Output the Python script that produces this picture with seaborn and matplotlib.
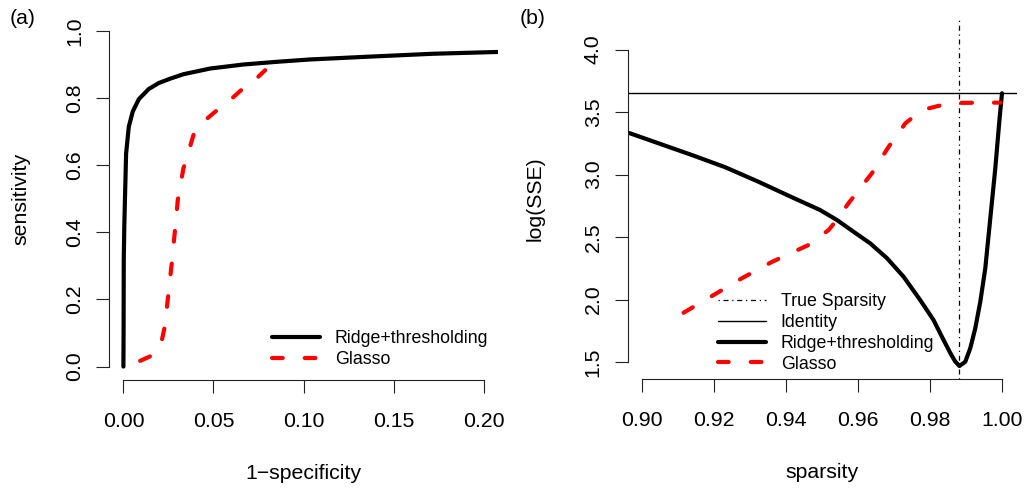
import matplotlib
matplotlib.use("Agg")
import matplotlib.pyplot as plt
import seaborn as sns

# ---------------- data ----------------
# (a) ROC curves
roc_ridge_fpr = [0.0, 0.0001, 0.0002, 0.0005, 0.0008, 0.0015, 0.003, 0.0052, 0.0086,
                 0.0141, 0.0197, 0.0261, 0.0333, 0.0482, 0.0667, 0.0852, 0.1037,
                 0.135, 0.172, 0.209]
roc_ridge_tpr = [0.0, 0.10, 0.318, 0.42, 0.486, 0.635, 0.715, 0.760, 0.797,
                 0.827, 0.845, 0.858, 0.871, 0.888, 0.900, 0.908, 0.915,
                 0.923, 0.932, 0.9375]
roc_glasso_fpr = [0.0093, 0.0167, 0.021, 0.023, 0.025, 0.0269, 0.0287, 0.0302, 0.0333,
                  0.037, 0.0389, 0.0454, 0.0509, 0.0593, 0.0648, 0.0732, 0.0787]
roc_glasso_tpr = [0.017, 0.035, 0.07, 0.12, 0.218, 0.31, 0.41, 0.496, 0.59,
                  0.655, 0.69, 0.734, 0.759, 0.794, 0.821, 0.855, 0.883]

# (b) log(SSE) vs sparsity
sse_ridge_sparsity = [0.89, 0.8962, 0.9045, 0.9138, 0.9231, 0.9323, 0.9416, 0.9494, 0.9541,
                      0.9587, 0.9633, 0.9680, 0.9726, 0.9772, 0.9809, 0.9837, 0.9856,
                      0.9869, 0.9881, 0.98972, 0.99111, 0.9925, 0.99389, 0.99528,
                      0.99667, 0.99806, 0.99925, 0.99992]
sse_ridge_log = [3.40, 3.334, 3.25, 3.156, 3.058, 2.942, 2.818, 2.716, 2.636,
                 2.542, 2.45, 2.33, 2.182, 1.996, 1.836, 1.676, 1.57,
                 1.505, 1.468, 1.502, 1.61, 1.77, 1.982, 2.25,
                 2.65, 3.05, 3.45, 3.65]
sse_glasso_sparsity = [0.9115, 0.9194, 0.9277, 0.936, 0.9462, 0.9518, 0.9536, 0.9573, 0.9638,
                       0.9684, 0.9731, 0.9777, 0.9833, 0.9879, 0.9995]
sse_glasso_log = [1.894, 2.028, 2.17, 2.30, 2.436, 2.556, 2.62, 2.77, 3.01,
                  3.22, 3.41, 3.516, 3.556, 3.573, 3.575]
identity_log_sse = 3.65
true_sparsity = 0.988

roc_xticks = [0.00, 0.05, 0.10, 0.15, 0.20]
roc_xticklabels = ["0.00", "0.05", "0.10", "0.15", "0.20"]
roc_yticks = [0.0, 0.2, 0.4, 0.6, 0.8, 1.0]
roc_yticklabels = ["0.0", "0.2", "0.4", "0.6", "0.8", "1.0"]
sse_xticks = [0.90, 0.92, 0.94, 0.96, 0.98, 1.00]
sse_xticklabels = ["0.90", "0.92", "0.94", "0.96", "0.98", "1.00"]
sse_yticks = [1.5, 2.0, 2.5, 3.0, 3.5, 4.0]
sse_yticklabels = ["1.5", "2.0", "2.5", "3.0", "3.5", "4.0"]

# ---------------- style ----------------
FIG_W, FIG_H = 1029, 490
sns.set_style("ticks")
plt.rcParams['font.family'] = ['Liberation Sans', 'DejaVu Sans']
plt.rcParams['text.color'] = 'black'
plt.rcParams['axes.labelcolor'] = 'black'
plt.rcParams['xtick.color'] = 'black'
plt.rcParams['ytick.color'] = 'black'

TXT = 15.3
LEG = 12.8
LW = 3.0
DASH = (0, (2.57, 5.29))

fig = plt.figure(figsize=(FIG_W / 100, FIG_H / 100), dpi=100)
fig.patch.set_facecolor('white')


def ax_rect(left, right, top, bottom):
    return [left / FIG_W, 1 - bottom / FIG_H, (right - left) / FIG_W, (bottom - top) / FIG_H]


ax1 = fig.add_axes(ax_rect(109, 498, 17.5, 380))
ax2 = fig.add_axes(ax_rect(627.7, 1016.7, 17.5, 379.3))


def style(ax, xt, xl, yt, yl):
    for s in ['top', 'right']:
        ax.spines[s].set_visible(False)
    ax.spines['left'].set_bounds(yt[0], yt[-1])
    ax.spines['bottom'].set_bounds(xt[0], xt[-1])
    for s in ['left', 'bottom']:
        ax.spines[s].set_linewidth(0.8)
        ax.spines[s].set_color('#222222')
    ax.set_xticks(xt)
    ax.set_xticklabels(xl)
    ax.set_yticks(yt)
    ax.set_yticklabels(yl, rotation=90, va='center')
    ax.tick_params(axis='both', direction='out', length=9.7, width=0.8,
                   color='#222222', labelsize=TXT, labelcolor='black')
    ax.tick_params(axis='x', pad=13)
    ax.tick_params(axis='y', pad=8.3)
    ax.grid(False)
    ax.set_facecolor('white')


# ---------------- panel (a) ----------------
sns.lineplot(x=roc_ridge_fpr, y=roc_ridge_tpr, ax=ax1, color='black', lw=LW,
             sort=False, estimator=None, solid_capstyle='round', solid_joinstyle='round')
h_ridge_a = ax1.lines[-1]
sns.lineplot(x=roc_glasso_fpr, y=roc_glasso_tpr, ax=ax1, color='#ff0000', lw=LW,
             sort=False, estimator=None, linestyle=DASH, dash_capstyle='round')
h_glasso_a = ax1.lines[-1]
ax1.set_xlim(-0.008, 0.208)
ax1.set_ylim(-0.04, 1.04)
style(ax1, roc_xticks, roc_xticklabels, roc_yticks, roc_yticklabels)
ax1.set_xlabel("1\u2212specificity", fontsize=TXT, va='top')
ax1.set_ylabel("sensitivity", fontsize=TXT)
ax1.xaxis.set_label_coords(0.5, -0.2317)
ax1.yaxis.set_label_coords(-0.203, 0.5)
ax1.legend([h_ridge_a, h_glasso_a], ["Ridge+thresholding", "Glasso"],
           loc='upper left', bbox_to_anchor=(271.7 / FIG_W, 1 - 330 / FIG_H),
           bbox_transform=fig.transFigure, frameon=False, fontsize=LEG,
           handlelength=2.71, handletextpad=0.84, labelspacing=0.24,
           borderpad=0, borderaxespad=0)

# ---------------- panel (b) ----------------
h_true = ax2.axvline(true_sparsity, color='black', lw=0.9, linestyle=(0, (1.0, 3.0, 4.0, 3.0)))
h_ident = ax2.axhline(identity_log_sse, color='black', lw=1.0)
sns.lineplot(x=sse_ridge_sparsity, y=sse_ridge_log, ax=ax2, color='black', lw=LW,
             sort=False, estimator=None, solid_capstyle='round', solid_joinstyle='round')
h_ridge_b = ax2.lines[-1]
sns.lineplot(x=sse_glasso_sparsity, y=sse_glasso_log, ax=ax2, color='#ff0000', lw=LW,
             sort=False, estimator=None, linestyle=DASH, dash_capstyle='round')
h_glasso_b = ax2.lines[-1]
ax2.set_xlim(0.896, 1.004)
ax2.set_ylim(1.3616, 4.256)
style(ax2, sse_xticks, sse_xticklabels, sse_yticks, sse_yticklabels)
ax2.set_xlabel("sparsity", fontsize=TXT, va='top')
ax2.set_ylabel("log(SSE)", fontsize=TXT)
ax2.xaxis.set_label_coords(0.5, -0.2317)
ax2.yaxis.set_label_coords(-0.2144, 0.5)
ax2.legend([h_true, h_ident, h_ridge_b, h_glasso_b],
           ["True Sparsity", "Identity", "Ridge+thresholding", "Glasso"],
           loc='upper left', bbox_to_anchor=(717.7 / FIG_W, 1 - 293.3 / FIG_H),
           bbox_transform=fig.transFigure, frameon=False, fontsize=LEG,
           handlelength=2.71, handletextpad=0.84, labelspacing=0.21,
           borderpad=0, borderaxespad=0)

fig.text(10 / FIG_W, 1 - 19 / FIG_H, "(a)", fontsize=TXT, ha='left', va='center')
fig.text(520 / FIG_W, 1 - 19 / FIG_H, "(b)", fontsize=TXT, ha='left', va='center')

fig.savefig("out.png", dpi=100, facecolor='white')
